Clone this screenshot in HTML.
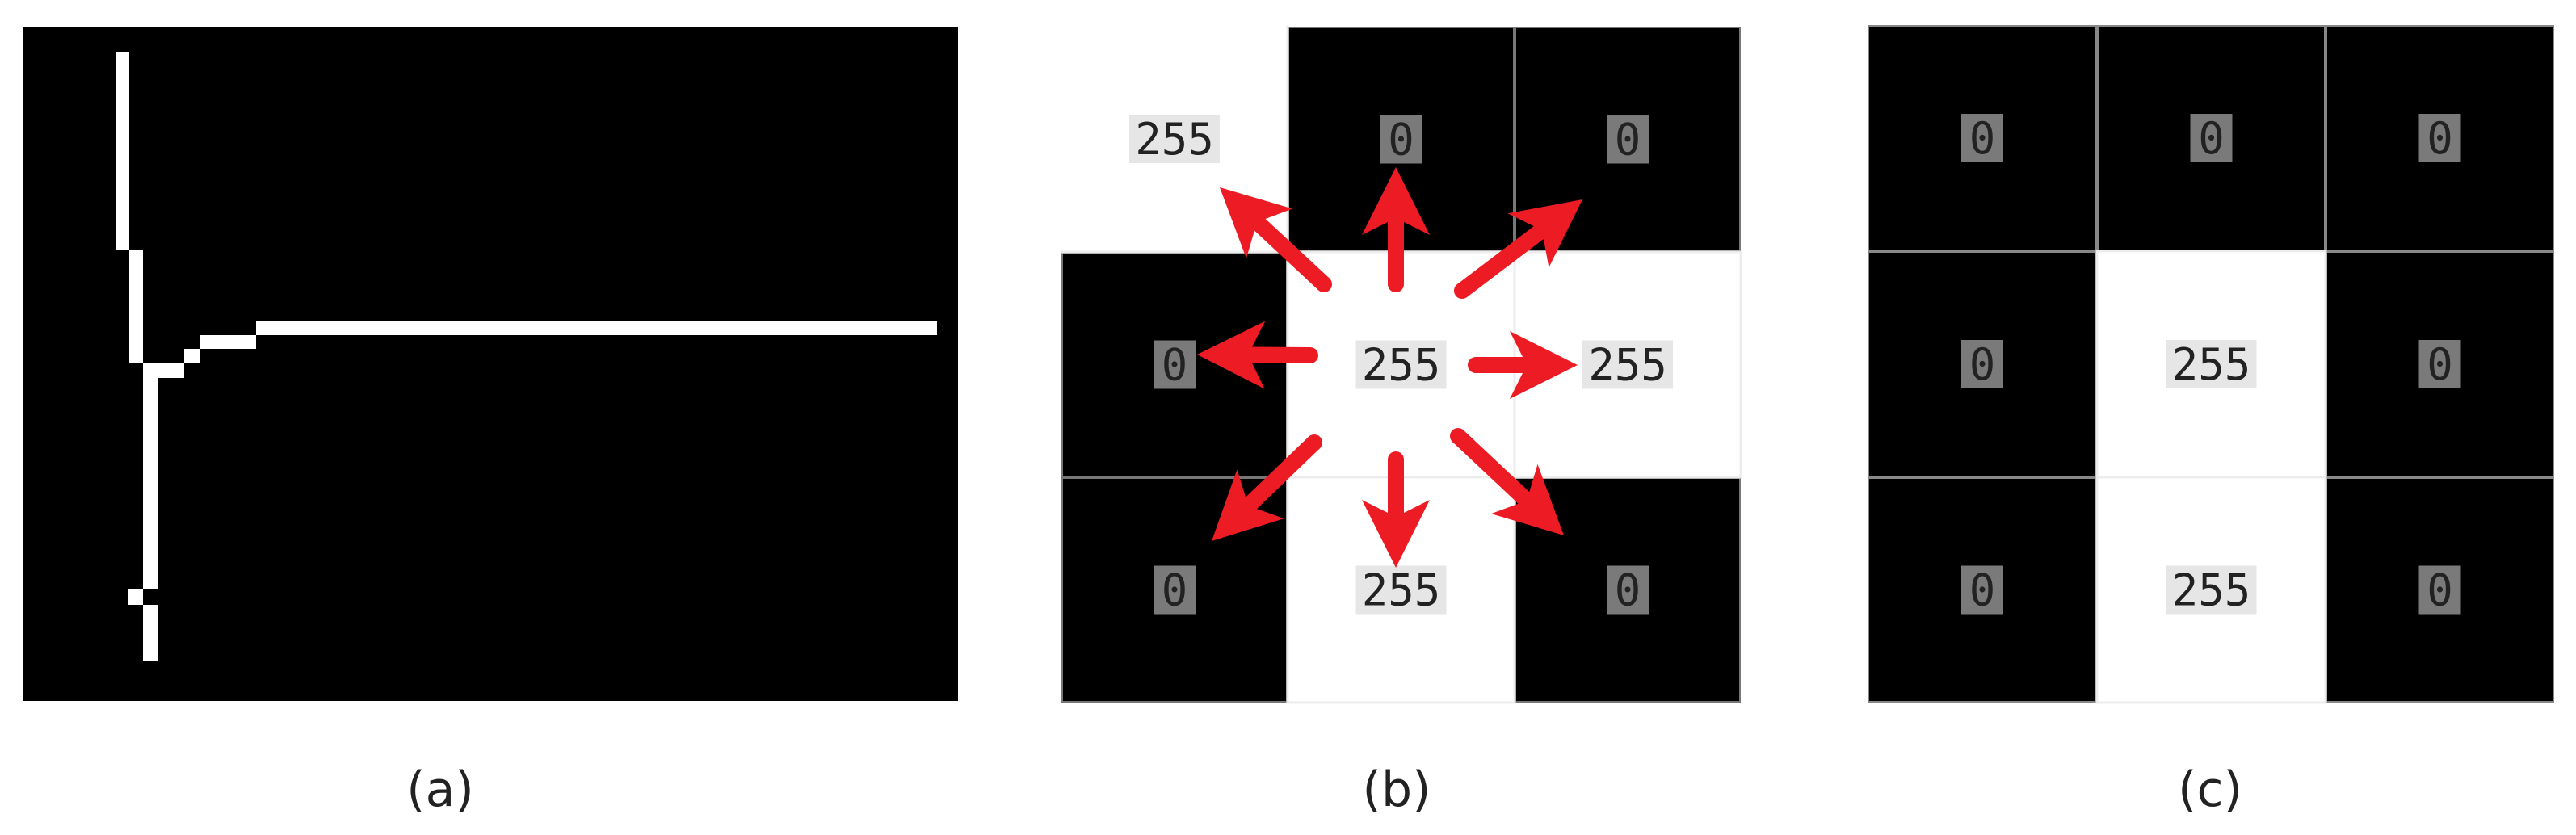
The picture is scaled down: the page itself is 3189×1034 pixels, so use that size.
<!DOCTYPE html>
<html><head><meta charset="utf-8"><style>
html,body{margin:0;padding:0;background:#fff;}
svg{display:block;}
.w{font-family:"DejaVu Sans Mono","Liberation Mono",monospace;font-size:54px;fill:#222;}
.cap{font-family:"DejaVu Sans","Liberation Sans",sans-serif;font-size:60px;fill:#222;}
</style></head><body>
<svg id="s" width="3189" height="1034" viewBox="0 0 3189 1034" xmlns="http://www.w3.org/2000/svg">
<rect width="3189" height="1034" fill="#fff"/>
<rect x="28" y="34" width="1158" height="834" fill="#000"/>
<g fill="#fff">
<rect x="143" y="64" width="17" height="245"/>
<rect x="160" y="309" width="17" height="141"/>
<rect x="177" y="450" width="51" height="18"/>
<rect x="228" y="432" width="20" height="18"/>
<rect x="248" y="415" width="69" height="17"/>
<rect x="317" y="398" width="843" height="17"/>
<rect x="177" y="468" width="19" height="261"/>
<rect x="159" y="729" width="18" height="20"/>
<rect x="177" y="749" width="19" height="69"/>
</g>
<text class="cap" x="545" y="998" text-anchor="middle">(a)</text>
<rect x="1314" y="33" width="841" height="837" fill="#777"/>
<g id="b"></g>
<text class="cap" x="1729" y="998" text-anchor="middle">(b)</text>
<rect x="2312" y="31" width="850" height="839" fill="#888"/>
<g id="c"></g>
<text class="cap" x="2736" y="998" text-anchor="middle">(c)</text>
<g id="arr" fill="#ed1c24"></g>
</svg>
<script>
const NS="http://www.w3.org/2000/svg";
function el(p,t,a,txt){const e=document.createElementNS(NS,t);for(const k in a)e.setAttribute(k,a[k]);if(txt)e.textContent=txt;p.appendChild(e);return e;}
function grid(g,xs,ys,pat){
 for(let r=0;r<3;r++)for(let c=0;c<3;c++){
  const white=pat[r][c]===1;
  const x=xs[c],y=ys[r],w=xs[c+1]-xs[c],h=ys[r+1]-ys[r];
  el(g,'rect',{x:x+2,y:y+2,width:w-4,height:h-4,fill:white?'#fff':'#000'});
  if(white){el(g,'rect',{x:x,y:y,width:w,height:h,fill:'#fff',stroke:'#ececec','stroke-width':3});}
  const cx=x+w/2,cy=y+h/2;
  if(white){el(g,'rect',{x:cx-56,y:cy-30,width:112,height:60,fill:'#e6e6e6'});
   el(g,'text',{class:'w',x:cx,y:cy+19,'text-anchor':'middle'},'255');}
  else{el(g,'rect',{x:cx-26,y:cy-30,width:52,height:60,fill:'#7a7a7a'});
   el(g,'text',{class:'w',x:cx,y:cy+19,'text-anchor':'middle'},'0');}
 }
}
const b=document.getElementById('b');
grid(b,[1314,1594,1875,2155],[33,312,591,870],[[1,0,0],[0,1,1],[0,1,0]]);
el(b,'rect',{x:1312,y:31,width:280,height:279,fill:'#fff'});
el(b,'text',{class:'w',x:1454,y:191,'text-anchor':'middle'},'');
const tl=el(b,'rect',{x:1398,y:142,width:112,height:60,fill:'#e6e6e6'});
el(b,'text',{class:'w',x:1454,y:191,'text-anchor':'middle'},'255');
grid(document.getElementById('c'),[2312,2596,2879,3162],[31,311,591,870],[[0,0,0],[0,1,0],[0,1,0]]);
const A=document.getElementById('arr');
function arrow(tx,ty,px,py){
 const dx=px-tx,dy=py-ty,L=Math.hypot(dx,dy),ux=dx/L,uy=dy/L,nx=-uy,ny=ux;
 const sw=10,hl=84,hw=42,notch=16;
 const bx=px-ux*hl,by=py-uy*hl;
 const nbx=bx+ux*notch,nby=by+uy*notch;
 const pts=[[tx+nx*sw,ty+ny*sw],[nbx+nx*sw,nby+ny*sw],[bx+nx*hw,by+ny*hw],[px,py],[bx-nx*hw,by-ny*hw],[nbx-nx*sw,nby-ny*sw],[tx-nx*sw,ty-ny*sw]];
 el(A,'polygon',{points:pts.map(p=>p.join(',')).join(' ')});
 el(A,'circle',{cx:tx,cy:ty,r:sw});
}
arrow(1728,352,1728,207);
arrow(1639,352,1510,232);
arrow(1810,360,1959,247);
arrow(1622,440,1482,439);
arrow(1827,452,1953,452);
arrow(1627,548,1500,670);
arrow(1728,569,1728,703);
arrow(1805,540,1936,663);
</script>
</body></html>
